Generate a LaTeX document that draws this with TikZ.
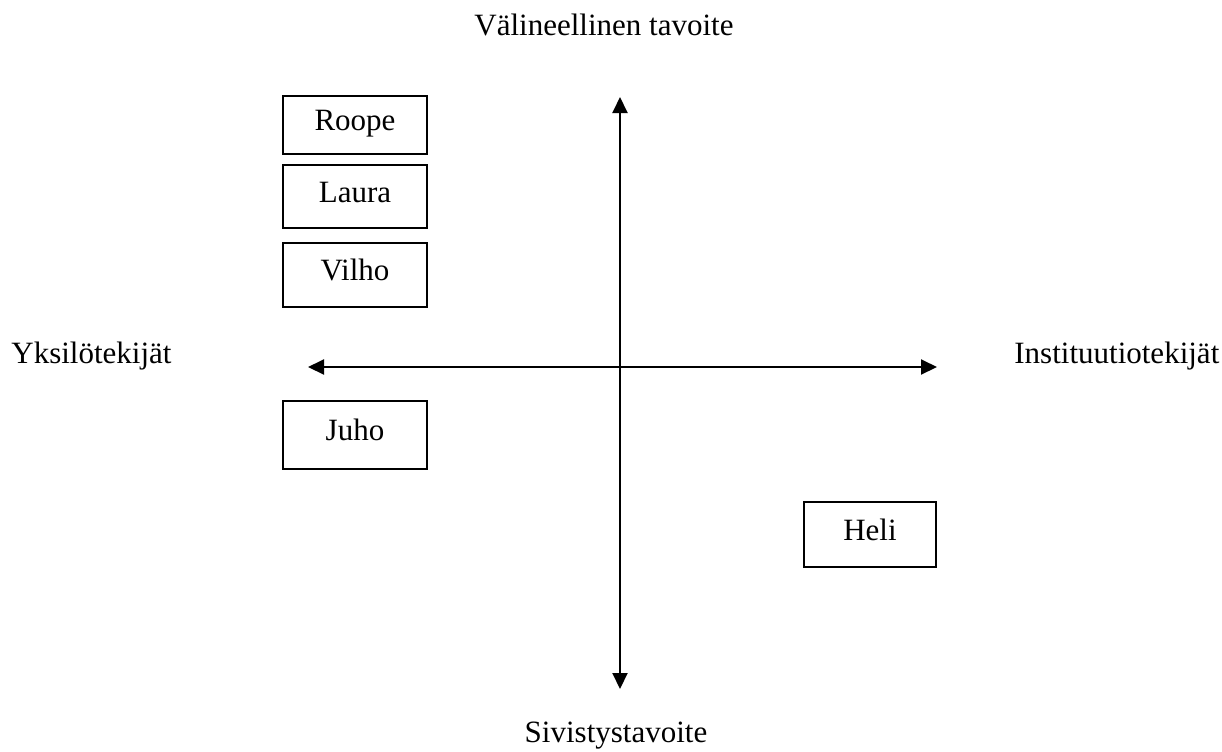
\documentclass[tikz,border=0pt]{standalone}
\usepackage{fontspec}
\setmainfont{Liberation Serif}
\usetikzlibrary{arrows.meta}
\begin{document}
\begin{tikzpicture}[x=0.5pt,y=-0.5pt,
  every node/.style={font=\fontsize{15.5}{18}\selectfont, inner sep=0pt},
  namebox/.style={draw, line width=1pt, minimum width=72pt,
    text height=0.75em, text depth=0.2em},
  axislabel/.style={anchor=base},
  axis/.style={line width=1pt, {Triangle[length=8pt,width=7.5pt]}-{Triangle[length=8pt,width=7.5pt]}}]
  \useasboundingbox (0,0) rectangle (1222,751);

  % axis end points
  \coordinate (top) at (620,97);
  \coordinate (bottom) at (620,689);
  \coordinate (left) at (308,367);
  \coordinate (right) at (937,367);

  \draw[axis] (top) -- (bottom);
  \draw[axis] (left) -- (right);

  % axis labels
  \node[axislabel] (vt) at (604,35) {Välineellinen tavoite};
  \node[axislabel] (st) at (616,742) {Sivistystavoite};
  \node[axislabel, anchor=base west] (yk) at (11,363) {Yksilötekijät};
  \node[axislabel, anchor=base west] (in) at (1014,363) {Instituutiotekijät};

  % persons
  \node[namebox, minimum height=29pt] (roope) at (355,125) {Roope};
  \node[namebox, minimum height=31.5pt] (laura) at (355,196.5) {Laura};
  \node[namebox, minimum height=32pt] (vilho) at (355,275) {Vilho};
  \node[namebox, minimum height=34pt] (juho) at (355,435) {Juho};
  \node[namebox, minimum height=32.5pt, minimum width=66pt] (heli) at (870,534.5) {Heli};
\end{tikzpicture}
\end{document}
